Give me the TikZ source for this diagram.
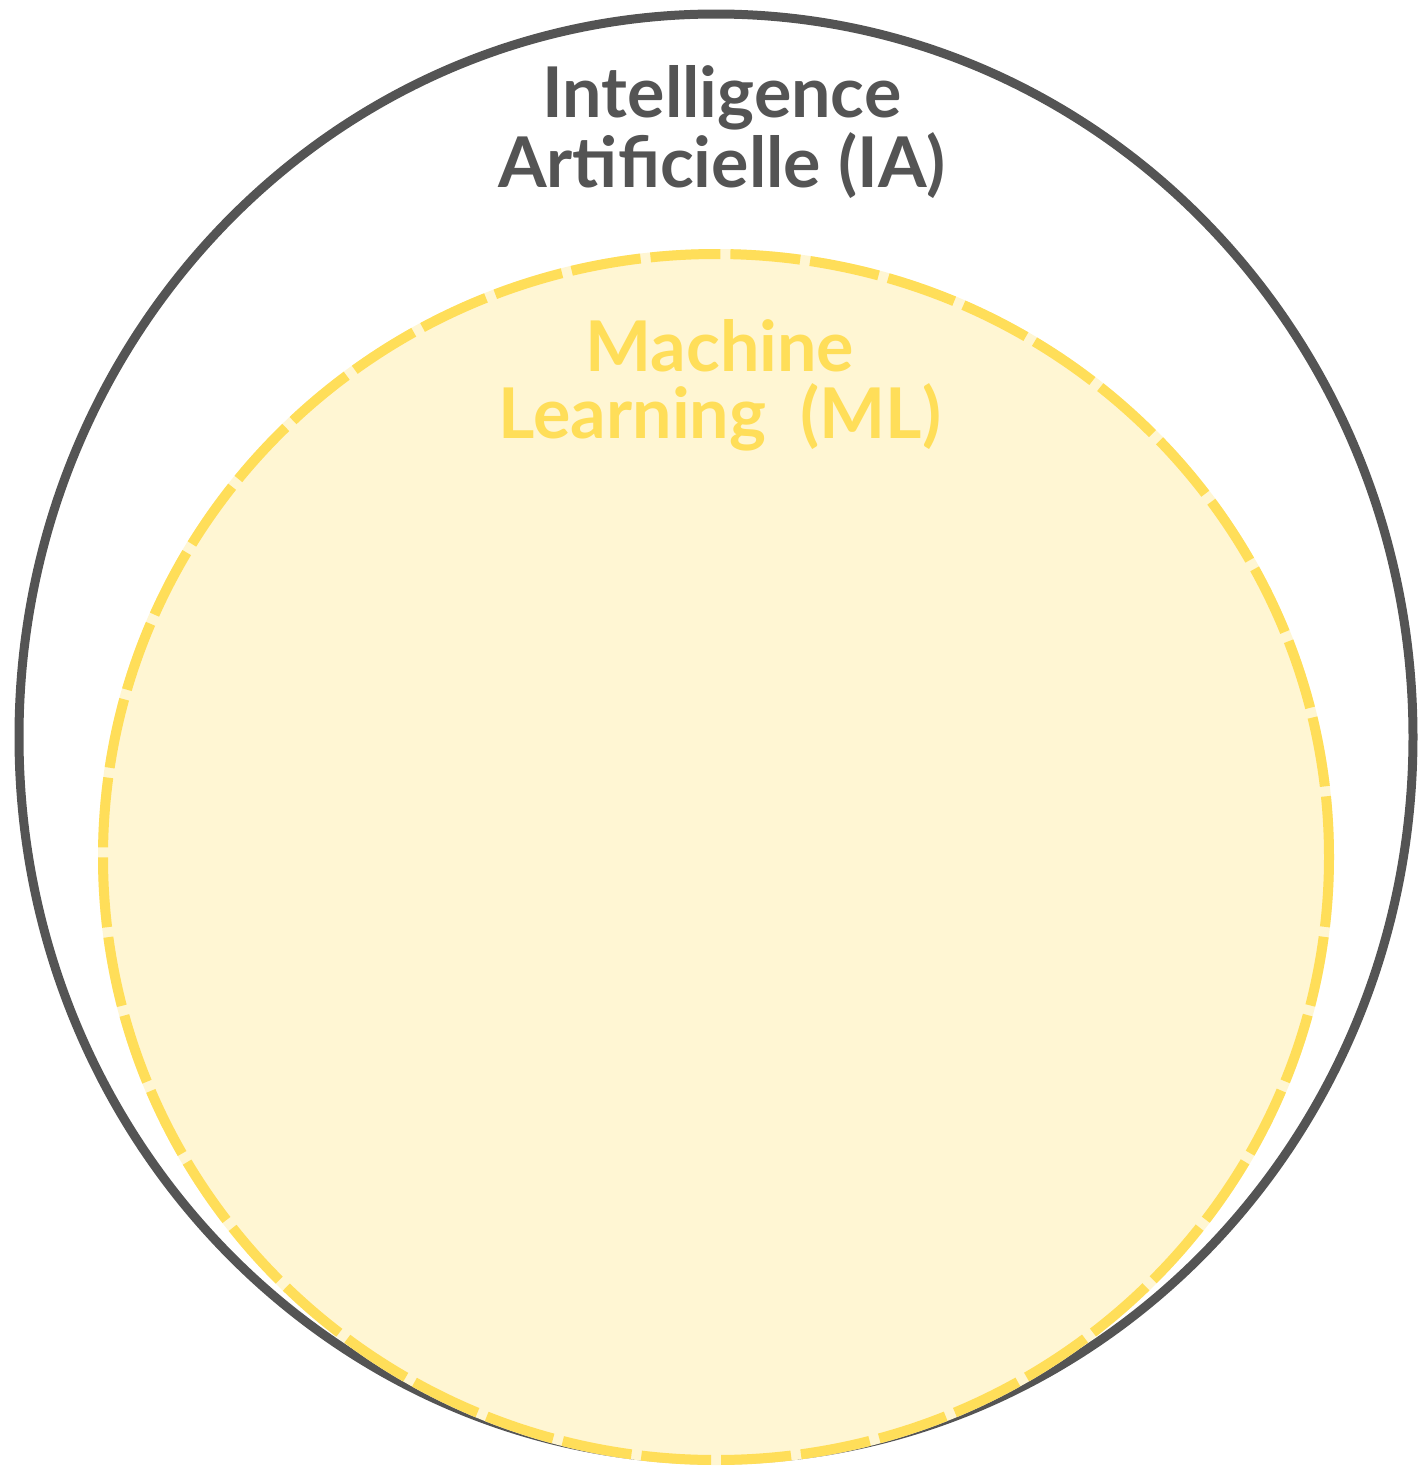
\documentclass[tikz,border=0pt]{standalone}
\usepackage{fontspec}
\setmainfont{Lato}
\definecolor{iagray}{HTML}{545454}
\definecolor{mlyellow}{HTML}{FFDE59}
\definecolor{mlfill}{HTML}{FFF6D3}
\begin{document}
\begin{tikzpicture}[x=0.5pt, y=-0.5pt,
    label ia/.style={align=center, font=\fontsize{35}{33.5}\selectfont\bfseries, text=iagray},
    label ml/.style={align=center, font=\fontsize{35}{33.5}\selectfont\bfseries, text=mlyellow}]
    \useasboundingbox (0, 0) rectangle (1422, 1469);

    \draw[color=iagray, line width=4.5pt] (716, 737) ellipse[x radius=697, y radius=723];
    \fill[color=mlfill] (716, 857) ellipse[x radius=618, y radius=608];
    \draw[color=mlyellow, line width=5pt, dash pattern=on 35pt off 5pt]
        (716, 857) ellipse[x radius=613, y radius=603];

    \node[label ia, anchor=base] (ia) at (722, 187) {Intelligence\\Artificielle (IA)};
    \node[label ml, anchor=base] (ml) at (720, 438) {Machine\\Learning\ \ (ML)};
\end{tikzpicture}
\end{document}
